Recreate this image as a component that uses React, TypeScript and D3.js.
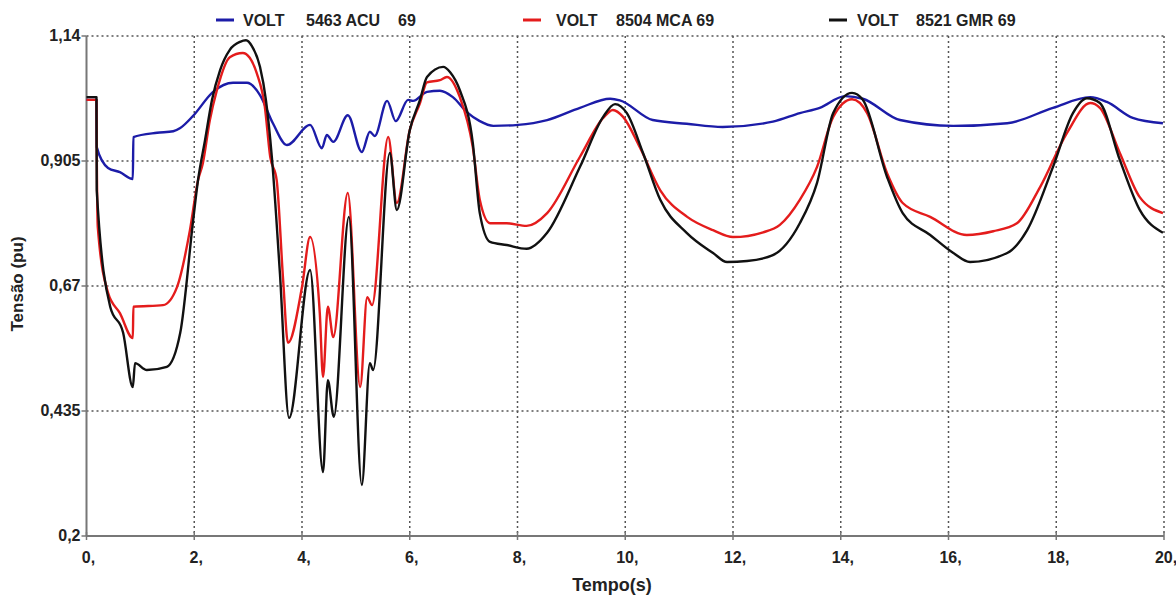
import React from 'react';
import * as d3 from 'd3';

// series: [time (s), voltage (pu)]
const acu69: [number, number][] = [
  [0, 1.02], [0.185, 1.02], [0.19, 0.931], [0.4, 0.892], [0.62, 0.884], [0.86, 0.871], [0.87, 0.95],
  [1.31, 0.958], [1.61, 0.961], [1.74, 0.967], [1.98, 0.99], [2.35, 1.035], [2.72, 1.052], [2.98, 1.052],
  [3.22, 1.029], [3.46, 0.976], [3.72, 0.935], [4.15, 0.973], [4.37, 0.929], [4.46, 0.954], [4.58, 0.941],
  [4.85, 0.991], [5.11, 0.922], [5.26, 0.96], [5.35, 0.952], [5.58, 1.018], [5.74, 0.98], [5.97, 1.02],
  [6.06, 1.018], [6.32, 1.035], [6.56, 1.037], [6.8, 1.025], [7.06, 0.997], [7.3, 0.98], [7.55, 0.971],
  [8.01, 0.973], [8.55, 0.982], [9.16, 1.005], [9.72, 1.022], [9.9, 1.019], [10.51, 0.982], [11.14, 0.975],
  [11.81, 0.969], [12.74, 0.979], [13.24, 0.995], [13.61, 1.005], [14.08, 1.027], [14.41, 1.022],
  [15.1, 0.982], [16.09, 0.971], [17.09, 0.976], [17.94, 1.005], [18.63, 1.025], [18.94, 1.016],
  [19.42, 0.986], [19.98, 0.976],
];

const mca69: [number, number][] = [
  [0, 1.02], [0.185, 1.02], [0.19, 0.93], [0.21, 0.78], [0.4, 0.657], [0.62, 0.619], [0.86, 0.572],
  [0.87, 0.631], [1.42, 0.634], [1.68, 0.668], [1.92, 0.775], [2.07, 0.869], [2.16, 0.901], [2.29, 0.982],
  [2.42, 1.038], [2.66, 1.1], [2.9, 1.108], [3.03, 1.099], [3.16, 1.07], [3.31, 1.007], [3.41, 0.913],
  [3.53, 0.869], [3.65, 0.681], [3.74, 0.563], [4.0, 0.668], [4.15, 0.762], [4.33, 0.619], [4.39, 0.499],
  [4.48, 0.631], [4.58, 0.574], [4.85, 0.845], [5.08, 0.48], [5.21, 0.649], [5.3, 0.634], [5.6, 0.95],
  [5.76, 0.826], [6.0, 0.963], [6.19, 1.014], [6.32, 1.053], [6.56, 1.057], [6.69, 1.063], [6.93, 1.025],
  [7.17, 0.931], [7.3, 0.832], [7.49, 0.788], [7.8, 0.788], [8.17, 0.783], [8.55, 0.807], [9.16, 0.913],
  [9.59, 0.986], [9.77, 1.001], [9.96, 0.988], [10.27, 0.931], [10.65, 0.85], [11.15, 0.8], [11.63, 0.775],
  [12.0, 0.762], [12.56, 0.771], [12.87, 0.785], [13.24, 0.832], [13.56, 0.894], [13.86, 0.988],
  [14.21, 1.021], [14.49, 0.995], [14.86, 0.882], [15.15, 0.826], [15.66, 0.8], [16.34, 0.766],
  [16.83, 0.773], [17.27, 0.788], [17.7, 0.856], [18.2, 0.958], [18.63, 1.014], [18.81, 1.005],
  [19.18, 0.92], [19.55, 0.837], [19.98, 0.807],
];

const gmr69: [number, number][] = [
  [0, 1.025], [0.185, 1.025], [0.19, 0.85], [0.44, 0.631], [0.68, 0.582], [0.86, 0.48], [0.9, 0.525],
  [1.12, 0.512], [1.49, 0.518], [1.74, 0.582], [1.98, 0.794], [2.07, 0.869], [2.2, 0.944], [2.33, 1.02],
  [2.48, 1.076], [2.66, 1.114], [2.85, 1.129], [2.96, 1.132], [3.07, 1.121], [3.22, 1.082], [3.33, 1.02],
  [3.44, 0.913], [3.59, 0.694], [3.76, 0.422], [4.15, 0.7], [4.39, 0.32], [4.48, 0.493], [4.59, 0.424],
  [4.87, 0.8], [5.11, 0.296], [5.26, 0.525], [5.32, 0.512], [5.63, 0.92], [5.76, 0.813], [6.0, 0.963],
  [6.19, 1.02], [6.32, 1.063], [6.62, 1.082], [6.75, 1.072], [6.93, 1.038], [7.17, 0.939], [7.3, 0.807],
  [7.49, 0.753], [7.8, 0.747], [8.17, 0.74], [8.55, 0.77], [9.16, 0.894], [9.59, 0.988], [9.81, 1.012],
  [10.03, 0.995], [10.33, 0.92], [10.65, 0.832], [11.14, 0.77], [11.63, 0.732], [11.89, 0.715],
  [12.26, 0.717], [12.74, 0.728], [13.24, 0.788], [13.56, 0.864], [13.86, 0.995], [14.21, 1.033],
  [14.41, 1.02], [14.86, 0.875], [15.15, 0.807], [15.66, 0.766], [16.09, 0.732], [16.4, 0.715],
  [17.09, 0.732], [17.46, 0.775], [17.94, 0.894], [18.31, 0.995], [18.57, 1.023], [18.81, 1.014],
  [19.18, 0.907], [19.55, 0.813], [19.98, 0.77],
];

const yTicks = [0.2, 0.435, 0.67, 0.905, 1.14];
const yTickLabels = ['0,2', '0,435', '0,67', '0,905', '1,14'];
const xTicks = [0, 2, 4, 6, 8, 10, 12, 14, 16, 18, 20];

// legend pieces: [text, x offset from marker]
const seriesLegend: [string, number][][] = [
  [['VOLT', 27], ['5463 ACU', 90], ['69', 182]],
  [['VOLT', 33], ['8504 MCA 69', 93]],
  [['VOLT', 28], ['8521 GMR 69', 87]],
];
const seriesColors = ['#1c1ca8', '#e41c1c', '#111111'];

const W = 1176;
const H = 597;
const left = 86.5;
const right = 1164;
const top = 36;
const bottom = 536;
const FONT = '"Liberation Sans", Arial, sans-serif';

export default function App() {
  const x = d3.scaleLinear().domain([0, 20]).range([left, right]);
  const y = d3.scaleLinear().domain([0.2, 1.14]).range([bottom, top]);
  const line = d3
    .line<[number, number]>()
    .x((d) => x(d[0]))
    .y((d) => y(d[1]))
    .curve(d3.curveMonotoneX);

  const data = [acu69, mca69, gmr69];
  const legendX = [216, 523, 829];

  return (
    <svg
      width={W}
      height={H}
      style={{ position: 'absolute', left: 0, top: 0, background: '#fff' }}
      fontFamily={FONT}
      fontWeight="bold"
    >
      {/* grid */}
      {xTicks.slice(1).map((t) => (
        <line key={'gx' + t} x1={x(t)} x2={x(t)} y1={top} y2={bottom}
          stroke="#555" strokeWidth={1.5} strokeDasharray="2,3" />
      ))}
      {yTicks.slice(1).map((v) => (
        <line key={'gy' + v} x1={left} x2={right} y1={y(v)} y2={y(v)}
          stroke="#555" strokeWidth={1.5} strokeDasharray="2,3" />
      ))}

      {/* axes */}
      <line x1={left} x2={left} y1={top} y2={bottom} stroke="#777" strokeWidth={2} />
      <line x1={left} x2={right} y1={bottom} y2={bottom} stroke="#777" strokeWidth={2} />
      {yTicks.map((v, i) => (
        <g key={'yt' + v}>
          <line x1={left - 5} x2={left} y1={y(v)} y2={y(v)} stroke="#777" strokeWidth={1.5} />
          <text x={left - 6} y={y(v)} dy="0.3em" textAnchor="end" fontSize={16} fill="#222">
            {yTickLabels[i]}
          </text>
        </g>
      ))}
      {xTicks.map((t) => (
        <g key={'xt' + t}>
          <line x1={x(t)} x2={x(t)} y1={bottom - 4} y2={bottom + 4} stroke="#777" strokeWidth={1.5} />
          <text x={x(t) + 2} y={bottom + 27} textAnchor="middle" fontSize={16} fill="#222">
            {t + ','}
          </text>
        </g>
      ))}

      <text x={612} y={591} textAnchor="middle" fontSize={18} fill="#222">Tempo(s)</text>
      <text transform="translate(23,284) rotate(-90)" textAnchor="middle" fontSize={17} fill="#222">
        Tensão (pu)
      </text>

      {/* series */}
      {data.map((d, i) => (
        <path key={'s' + i} d={line(d) || ''} fill="none" stroke={seriesColors[i]}
          strokeWidth={2.4} strokeLinejoin="round" />
      ))}

      {/* legend */}
      {seriesLegend.map((parts, i) => (
        <g key={'lg' + i} transform={`translate(${legendX[i]},20)`}>
          <line x1={0} x2={18} y1={0} y2={0} stroke={seriesColors[i]} strokeWidth={3} />
          {parts.map(([txt, dx]) => (
            <text key={txt} x={dx} y={0} dy="0.35em" fontSize={16} fill="#222">{txt}</text>
          ))}
        </g>
      ))}
    </svg>
  );
}
